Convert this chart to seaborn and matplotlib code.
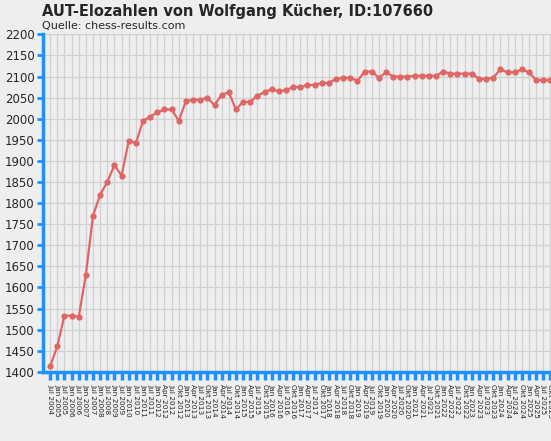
import matplotlib
matplotlib.use("Agg")
import matplotlib.pyplot as plt
import seaborn as sns
import pandas as pd

labels = ["Jul 2004","Jan 2005","Jul 2005","Jan 2006","Jul 2006","Jan 2007","Jul 2007","Jan 2008",
          "Jul 2008","Jan 2009","Jul 2009","Jan 2010","Jul 2010","Jan 2011","Jul 2011",
          "Jan 2012","Apr 2012","Jul 2012","Okt 2012","Jan 2013","Apr 2013","Jul 2013","Okt 2013",
          "Jan 2014","Apr 2014","Jul 2014","Okt 2014","Jan 2015","Apr 2015","Jul 2015","Okt 2015",
          "Jan 2016","Apr 2016","Jul 2016","Okt 2016","Jan 2017","Apr 2017","Jul 2017","Okt 2017",
          "Jan 2018","Apr 2018","Jul 2018","Okt 2018","Jan 2019","Apr 2019","Jul 2019","Okt 2019",
          "Jan 2020","Apr 2020","Jul 2020","Okt 2020","Jan 2021","Apr 2021","Jul 2021","Okt 2021",
          "Jan 2022","Apr 2022","Jul 2022","Okt 2022","Jan 2023","Apr 2023","Jul 2023","Okt 2023",
          "Jan 2024","Apr 2024","Jul 2024","Okt 2024","Jan 2025","Apr 2025","Jul 2025","Okt 2025"]
elo = [1413,1460,1533,1533,1530,1630,1770,1820,1850,1890,1865,1948,1942,1995,2005,2015,2022,2022,
       1995,2042,2045,2045,2050,2032,2057,2063,2022,2040,2040,2055,2063,2070,2065,2068,2075,2075,
       2080,2080,2085,2085,2095,2097,2097,2090,2112,2112,2097,2110,2100,2100,2100,2102,2102,2102,
       2102,2112,2107,2107,2107,2107,2095,2095,2097,2117,2110,2110,2117,2110,2092,2092,2092]

df = pd.DataFrame({"pos": range(len(elo)), "elo": elo})
sns.set_style("whitegrid", {"xtick.bottom": True, "ytick.left": True})
fig = plt.figure(figsize=(5.51, 4.41), dpi=100, facecolor="#EEEEEE")
ax = fig.add_axes([0.078, 0.157, 0.93, 0.765])
ax.set_facecolor("#EEEEEE")
sns.lineplot(data=df, x="pos", y="elo", ax=ax, color="#E06666", marker="o",
             markersize=4.5, markeredgewidth=0, linewidth=1.6)
ax.set_ylim(1400, 2200)
ax.set_yticks(range(1400, 2201, 50))
ax.set_xlim(-1, len(elo) - 0.3)
ax.set_xticks(range(len(elo)))
ax.set_xticklabels(labels, rotation=-90, fontsize=5.3)
ax.tick_params(axis="y", labelsize=8.5, length=4, color="#1E90FF", width=2, pad=2)
ax.tick_params(axis="x", length=6, color="#1E90FF", width=2.5, pad=3)
ax.grid(True, color="#D0D0D0", linewidth=0.9)
for s in ["top", "right"]:
    ax.spines[s].set_visible(False)
for s in ["left", "bottom"]:
    ax.spines[s].set_color("#1E90FF")
    ax.spines[s].set_linewidth(2.5)
ax.set_xlabel("")
ax.set_ylabel("")
fig.text(0.077, 0.975, "AUT-Elozahlen von Wolfgang Kücher, ID:107660", fontsize=10.5,
         fontweight="bold", va="center")
fig.text(0.077, 0.942, "Quelle: chess-results.com", fontsize=8, va="center")
fig.savefig("out.png", dpi=100, facecolor="#EEEEEE")
